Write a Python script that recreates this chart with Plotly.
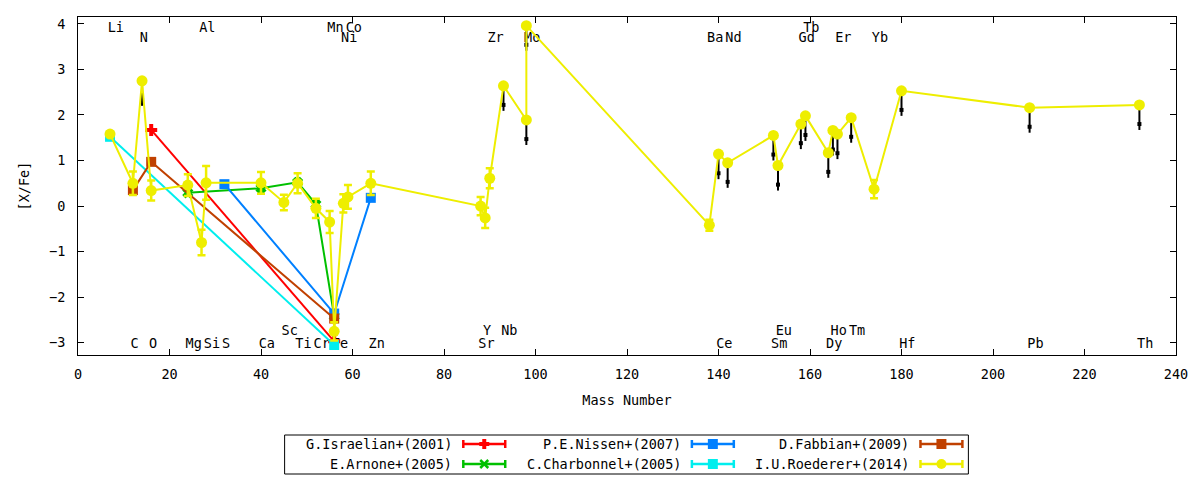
import plotly.graph_objects as go

# ---------------- data ----------------
mass = {"Li": 7, "C": 12, "N": 14, "O": 16, "Mg": 24, "Al": 27, "Si": 28, "S": 32,
        "Ca": 40, "Sc": 45, "Ti": 48, "Cr": 52, "Mn": 55, "Fe": 56, "Ni": 58, "Co": 59,
        "Zn": 64, "Sr": 88, "Y": 89, "Zr": 90, "Nb": 93, "Mo": 98, "Ba": 138, "Ce": 140,
        "Nd": 142, "Sm": 152, "Eu": 153, "Gd": 158, "Tb": 159, "Dy": 164, "Ho": 165,
        "Er": 166, "Tm": 169, "Yb": 174, "Hf": 180, "Pb": 208, "Th": 232}

# element label rows
lab_top1 = ["Li", "Al", "Mn", "Co", "Tb"]
lab_top2 = ["N", "Ni", "Zr", "Mo", "Ba", "Nd", "Gd", "Er", "Yb"]
lab_bot2 = ["Sc", "Y", "Nb", "Eu", "Ho", "Tm"]
lab_bot1 = ["C", "O", "Mg", "Si", "S", "Ca", "Ti", "Cr", "Fe", "Zn", "Sr", "Ce",
            "Sm", "Dy", "Hf", "Pb", "Th"]

# G.Israelian+(2001)
isr_el = ["O", "Fe"]
isr_val = [1.67, -2.97]
# E.Arnone+(2005)
arn_el = ["Mg", "Ca", "Ti", "Cr", "Fe"]
arn_val = [0.29, 0.39, 0.52, 0.04, -2.42]
# P.E.Nissen+(2007)
nis_el = ["S", "Fe", "Zn"]
nis_val = [0.48, -2.36, 0.18]
# C.Charbonnel+(2005)
cha_el = ["Li", "Fe"]
cha_val = [1.52, -3.05]
# D.Fabbian+(2009)
fab_el = ["C", "O", "Fe"]
fab_val = [0.35, 0.97, -2.47]
# I.U.Roederer+(2014)
roe_el = ["Li", "C", "N", "O", "Mg", "Al", "Si", "Ca", "Sc", "Ti", "Cr", "Mn", "Fe",
          "Ni", "Co", "Zn", "Sr", "Y", "Zr", "Nb", "Mo", "Mo", "Ba", "Ce", "Nd", "Sm",
          "Eu", "Gd", "Tb", "Dy", "Ho", "Er", "Tm", "Yb", "Hf", "Pb", "Th"]
roe_val = [1.58, 0.50, 2.75, 0.34, 0.46, -0.80, 0.51, 0.51, 0.08, 0.50, -0.05, -0.35,
           -2.75, 0.06, 0.20, 0.50, 0.00, -0.26, 0.61, 2.64, 1.89, 3.96, -0.42, 1.14,
           0.95, 1.55, 0.89, 1.80, 1.98, 1.17, 1.66, 1.58, 1.94, 0.37, 2.53, 2.16, 2.22]
roe_err = [0.05, 0.26, 0.0, 0.22, 0.24, 0.28, 0.37, 0.24, 0.17, 0.22, 0.21, 0.24,
           0.20, 0.20, 0.26, 0.26, 0.20, 0.22, 0.22, 0.0, 0.0, 0.0, 0.12, 0.0,
           0.0, 0.0, 0.0, 0.0, 0.0, 0.0, 0.0, 0.0, 0.0, 0.20, 0.0, 0.0, 0.0]
roe_upper = [0, 0, 1, 0, 0, 0, 0, 0, 0, 0, 0, 0, 0, 0, 0, 0, 0, 0, 0, 1, 1, 1, 0, 1,
             1, 1, 1, 1, 1, 1, 1, 1, 1, 0, 1, 1, 1]

# ---------------- styling ----------------
FONT = "DejaVu Sans Mono"
FS = 13.5
RED, GREEN, BLUE, CYAN, BROWN, YELLOW = "#ff0000", "#00c000", "#0080ff", "#00eeee", "#c04000", "#eeee00"

L, R, T, B = 78, 22, 17, 125
W, H = 1200, 480
PW, PH = W - L - R, H - T - B


def px2x(px):
    return (px - L) / PW


def py2y(py):
    return (H - B - py) / PH


fig = go.Figure()

# element labels (drawn first so data covers them)
rows = [(lab_top1, 3.90), (lab_top2, 3.68), (lab_bot2, -2.75), (lab_bot1, -3.05)]
for names, yy in rows:
    fig.add_trace(go.Scatter(
        x=[mass[n] - 0.5 for n in names], y=[yy] * len(names), mode="text",
        text=names, textposition="middle right",
        textfont=dict(family=FONT, size=FS, color="black"),
        hoverinfo="skip", showlegend=False))


def series(els, vals, color, symbol, size, name):
    fig.add_trace(go.Scatter(
        x=[mass[e] for e in els], y=vals, mode="lines+markers", name=name,
        line=dict(color=color, width=2),
        marker=dict(color=color, symbol=symbol, size=size,
                    line=dict(color=color, width=1.5 if symbol.startswith("x") else 0)),
        showlegend=False))


series(isr_el, isr_val, RED, "cross", 10, "G.Israelian+(2001)")
series(arn_el, arn_val, GREEN, "x", 8, "E.Arnone+(2005)")
series(nis_el, nis_val, BLUE, "square", 10, "P.E.Nissen+(2007)")
series(cha_el, cha_val, CYAN, "square", 10, "C.Charbonnel+(2005)")
series(fab_el, fab_val, BROWN, "square", 10, "D.Fabbian+(2009)")

# upper limit arrows for Roederer
ax, ay, hx, hy = [], [], [], []
for e, v, u in zip(roe_el, roe_val, roe_upper):
    if u:
        ax += [mass[e], mass[e], None]
        ay += [v, v - 0.55, None]
        hx.append(mass[e])
        hy.append(v - 0.42)
fig.add_trace(go.Scatter(x=ax, y=ay, mode="lines", line=dict(color="black", width=2),
                         hoverinfo="skip", showlegend=False))
fig.add_trace(go.Scatter(x=hx, y=hy, mode="markers",
                         marker=dict(symbol="square", size=4, color="black"),
                         hoverinfo="skip", showlegend=False))

fig.add_trace(go.Scatter(
    x=[mass[e] for e in roe_el], y=roe_val, mode="lines+markers",
    name="I.U.Roederer+(2014)",
    line=dict(color=YELLOW, width=2),
    marker=dict(color=YELLOW, symbol="circle", size=11),
    error_y=dict(type="data", array=roe_err, visible=True, color=YELLOW,
                 thickness=2.5, width=4),
    showlegend=False))

# ---------------- manual legend (gnuplot style) ----------------
shapes = []
annotations = []
shapes.append(dict(type="rect", xref="paper", yref="paper",
                   x0=px2x(285), x1=px2x(970), y0=py2y(474), y1=py2y(435),
                   line=dict(color="black", width=1), fillcolor="rgba(0,0,0,0)"))
entries = [("G.Israelian+(2001)", RED, "cross", 455, 444),
           ("P.E.Nissen+(2007)", BLUE, "square", 684, 444),
           ("D.Fabbian+(2009)", BROWN, "square", 913, 444),
           ("E.Arnone+(2005)", GREEN, "x", 455, 464),
           ("C.Charbonnel+(2005)", CYAN, "square", 684, 464),
           ("I.U.Roederer+(2014)", YELLOW, "circle", 913, 464)]
for text, col, sym, tx, ty in entries:
    annotations.append(dict(xref="paper", yref="paper", x=px2x(tx), y=py2y(ty),
                            xanchor="right", yanchor="middle", text=text, showarrow=False,
                            font=dict(family=FONT, size=FS, color="black")))
    s0, s1 = tx + 9, tx + 51
    cy = ty
    shapes.append(dict(type="line", xref="paper", yref="paper", x0=px2x(s0), x1=px2x(s1),
                       y0=py2y(cy), y1=py2y(cy), line=dict(color=col, width=2.5)))
    for sx in (s0, s1):
        shapes.append(dict(type="line", xref="paper", yref="paper", x0=px2x(sx), x1=px2x(sx),
                           y0=py2y(cy - 4), y1=py2y(cy + 4), line=dict(color=col, width=2.5)))
    mx = (s0 + s1) / 2
    if sym == "square":
        shapes.append(dict(type="rect", xref="paper", yref="paper", x0=px2x(mx - 5), x1=px2x(mx + 5),
                           y0=py2y(cy + 5), y1=py2y(cy - 5), line=dict(width=0), fillcolor=col))
    elif sym == "circle":
        shapes.append(dict(type="circle", xref="paper", yref="paper", x0=px2x(mx - 5), x1=px2x(mx + 5),
                           y0=py2y(cy + 5), y1=py2y(cy - 5), line=dict(width=0), fillcolor=col))
    elif sym == "cross":
        shapes.append(dict(type="rect", xref="paper", yref="paper", x0=px2x(mx - 5), x1=px2x(mx + 5),
                           y0=py2y(cy + 2), y1=py2y(cy - 2), line=dict(width=0), fillcolor=col))
        shapes.append(dict(type="rect", xref="paper", yref="paper", x0=px2x(mx - 2), x1=px2x(mx + 2),
                           y0=py2y(cy + 5), y1=py2y(cy - 5), line=dict(width=0), fillcolor=col))
    elif sym == "x":
        for (a, b, c, d) in [(-4, -4, 4, 4), (-4, 4, 4, -4)]:
            shapes.append(dict(type="line", xref="paper", yref="paper", x0=px2x(mx + a), x1=px2x(mx + c),
                               y0=py2y(cy + b), y1=py2y(cy + d), line=dict(color=col, width=2.5)))

fig.update_layout(
    width=W, height=H, autosize=False,
    margin=dict(l=L, r=R, t=T, b=B, pad=0),
    paper_bgcolor="white", plot_bgcolor="white",
    font=dict(family=FONT, size=FS, color="black"),
    showlegend=False,
    shapes=shapes, annotations=annotations,
    xaxis=dict(range=[0, 240], dtick=20, tick0=0, ticks="inside", ticklen=6,
               tickcolor="black", mirror="allticks", showline=True, linecolor="black",
               linewidth=1, showgrid=False, zeroline=False, ticklabelstandoff=7,
               title=dict(text="Mass Number", standoff=14,
                          font=dict(family=FONT, size=FS))),
    yaxis=dict(range=[-3.27, 4.15], dtick=1, tick0=0, ticks="inside", ticklen=6,
               tickcolor="black", mirror="allticks", showline=True, linecolor="black",
               linewidth=1, showgrid=False, zeroline=False, ticklabelstandoff=9,
               title=dict(text="[X/Fe]", standoff=16,
                          font=dict(family=FONT, size=FS))),
)

fig.write_html("out.html", config={"displayModeBar": False},
               post_script="document.body.style.margin='0';")
